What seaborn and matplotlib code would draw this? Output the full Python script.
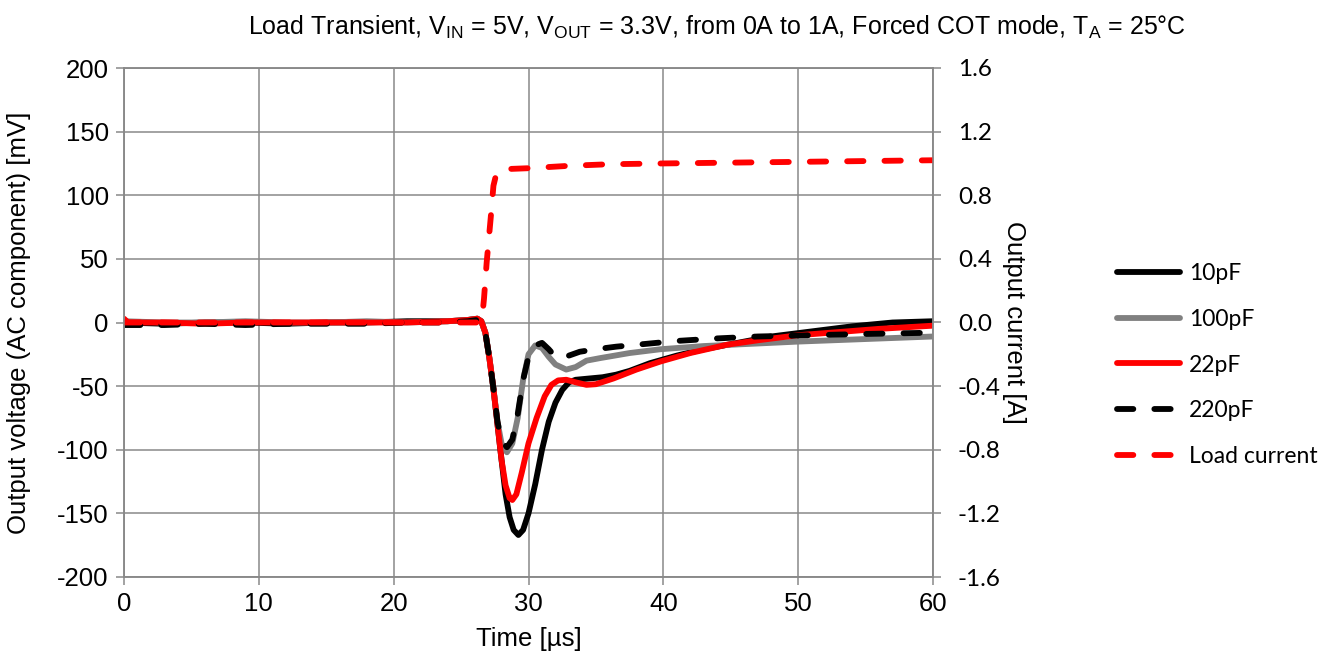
import numpy as np
import pandas as pd
import matplotlib
matplotlib.use("Agg")
import matplotlib.pyplot as plt
import seaborn as sns

# ---------------- data ----------------
t_10pF = [0, 3, 6, 9, 12, 15, 18, 21, 24, 25.5, 26.2, 26.5, 26.8, 27.1, 27.4, 27.7, 28.0, 28.3,
          28.6, 28.9, 29.25, 29.6, 30.0, 30.5, 31.0, 31.5, 32.0, 32.5, 33.0, 33.5, 34.5, 35.5,
          36.5, 37.5, 39, 41, 43, 45, 48, 51, 54, 57, 60]
v_10pF = [0, -1, 0, 0, -1, 0, 0, 1, 1, 2, 3, 1, -8, -28, -52, -80, -108, -135,
          -153, -163, -167, -163, -150, -127, -100, -78, -63, -53, -47, -45, -44, -43,
          -41, -38, -32, -26, -21, -17, -11, -7, -3, 0, 1]

t_100pF = [0, 3, 6, 9, 12, 15, 18, 21, 24, 25.5, 26.2, 26.5, 26.8, 27.1, 27.4, 27.7, 28.0, 28.4,
           28.8, 29.2, 29.6, 30.0, 30.5, 31.0, 31.5, 32.0, 32.8, 33.5, 34.3, 35.3, 37.5, 39.8,
           43, 46, 50, 55, 60]
v_100pF = [1, 0, 0, 1, 0, 0, 1, 0, 1, 2, 3, 1, -8, -28, -52, -78, -95, -102,
           -95, -75, -45, -25, -18, -20, -27, -33, -37, -35, -30, -28, -24, -21,
           -18.5, -17, -15, -13, -11]

t_22pF = [0, 0.3, 3, 6, 9, 12, 15, 18, 21, 24, 25.5, 26.2, 26.5, 26.8, 27.1, 27.4, 27.7, 28.0,
          28.3, 28.6, 28.8, 29.1, 29.5, 30.0, 30.6, 31.2, 31.7, 32.2, 32.8, 33.5, 34.3, 35.0,
          36.3, 38, 39.8, 42, 44.7, 47, 50, 53, 56, 60]
v_22pF = [3, 0, 0, -1, 0, 0, 0, 0, 0, 1, 2, 3, 1, -8, -28, -52, -80, -108,
          -128, -138, -139.5, -135, -118, -95, -75, -58, -49, -45.5, -45, -47, -49, -48.5,
          -44, -37, -30.6, -24, -17.5, -14, -10, -7.5, -5, -2.5]

t_220pF = [0, 3, 6, 9, 12, 15, 18, 21, 24, 25.5, 26.2, 26.5, 26.8, 27.1, 27.4, 27.7, 28.0, 28.4,
           28.8, 29.2, 29.6, 30.0, 30.5, 31.0, 31.5, 32.0, 32.5, 33.0, 33.8, 35, 36.5, 38.5,
           41, 44, 47, 51, 55, 60]
v_220pF = [-2, -2, -1, -2, -1, -1, -1, 0, 0, 1, 2, 0, -8, -28, -52, -78, -93, -98,
           -92, -72, -45, -27, -18, -16, -21, -27, -28, -26, -23, -21, -19, -17,
           -14.5, -12.5, -11, -10, -9, -8]

t_load = [0, 10, 20, 26.4, 26.55, 26.7, 26.9, 27.2, 27.4, 27.6, 27.9, 28.5, 30, 33, 36,
          40, 45, 50, 55, 60]
i_load = [0, 0, 0, 0, 0.02, 0.15, 0.38, 0.66, 0.86, 0.93, 0.96, 0.965, 0.97, 0.985, 0.995,
          1.0, 1.005, 1.01, 1.015, 1.02]

labels = ["10pF", "100pF", "22pF", "220pF", "Load current"]
colors = ["#000000", "#808080", "#FF0000", "#000000", "#FF0000"]

x_ticks = [0, 10, 20, 30, 40, 50, 60]
yl_ticks = [-200, -150, -100, -50, 0, 50, 100, 150, 200]
yr_ticks = [-1.6, -1.2, -0.8, -0.4, 0.0, 0.4, 0.8, 1.2, 1.6]

title = ("Load Transient, V$_{\\mathregular{IN}}$ = 5V, V$_{\\mathregular{OUT}}$ = 3.3V, "
         "from 0A to 1A, Forced COT mode, T$_{\\mathregular{A}}$ = 25°C")

# ---------------- styling ----------------
sns.set_theme(style="white")
plt.rcParams["font.family"] = ["Liberation Sans", "DejaVu Sans"]
plt.rcParams["mathtext.fontset"] = "custom"
plt.rcParams["mathtext.rm"] = "Liberation Sans"
plt.rcParams["mathtext.it"] = "Liberation Sans"
plt.rcParams["axes.unicode_minus"] = False
for key in ["text.color", "axes.labelcolor", "xtick.labelcolor", "ytick.labelcolor"]:
    plt.rcParams[key] = "black"

GRID = "#898989"
LW = 4.2
DASH = (0, (2.8, 3.6))
FS = 18.5

fig = plt.figure(figsize=(13.33, 6.56), dpi=100)
ax = fig.add_axes([124 / 1333, 1 - 577 / 656, (933 - 124) / 1333, (577 - 68) / 656])

series = [(t_10pF, v_10pF), (t_100pF, v_100pF), (t_22pF, v_22pF), (t_220pF, v_220pF)]
handles = []
for k, (tt, vv) in enumerate(series):
    df = pd.DataFrame({"t": tt, "v": vv})
    sns.lineplot(data=df, x="t", y="v", ax=ax, color=colors[k], linewidth=LW,
                 estimator=None, sort=True, label=labels[k], legend=False)
    ln = ax.get_lines()[-1]
    ln.set_solid_capstyle("round")
    ln.set_solid_joinstyle("round")
    if labels[k] == "220pF":
        ln.set_linestyle(DASH)
        ln.set_dash_capstyle("round")
    handles.append(ln)

ax2 = ax.twinx()
dfl = pd.DataFrame({"t": t_load, "i": i_load})
sns.lineplot(data=dfl, x="t", y="i", ax=ax2, color=colors[4], linewidth=LW,
             estimator=None, sort=True, label=labels[4], legend=False)
ln = ax2.get_lines()[-1]
ln.set_linestyle(DASH)
ln.set_dash_capstyle("round")
handles.append(ln)

ax.set_xlim(0, 60)
ax.set_ylim(-200, 200)
ax2.set_ylim(-1.6, 1.6)
ax.set_xticks(x_ticks)
ax.set_yticks(yl_ticks)
ax2.set_yticks(yr_ticks)
ax2.set_yticklabels([f"{v:.1f}" for v in yr_ticks], family="Lato", fontsize=17.5)

ax.grid(True, color=GRID, linewidth=1.1)
ax.set_axisbelow(True)
for a in (ax, ax2):
    for s in a.spines.values():
        s.set_color(GRID)
        s.set_linewidth(1.1)
ax.tick_params(axis="both", direction="out", length=6, width=1.1, color=GRID,
               labelsize=FS, pad=5, left=True, bottom=True, labelcolor="black")
ax2.tick_params(axis="y", direction="out", length=6, width=1.1, color=GRID, pad=12,
                right=True, labelcolor="black")

ax.set_xlabel("Time [µs]", fontsize=FS, labelpad=8)
ax.set_ylabel("Output voltage (AC component) [mV]", fontsize=FS, labelpad=19)
ax2.set_ylabel("Output current [A]", fontsize=FS, rotation=-90, labelpad=18)

fig.text(717 / 1333, 1 - 27 / 656, title, ha="center", va="center", fontsize=18)

fig.legend(handles=handles, labels=labels, loc="center left",
           bbox_to_anchor=(1096 / 1333, 1 - 365 / 656), frameon=False,
           prop={"family": "Lato", "size": 16.5}, handlelength=2.75, handletextpad=0.4,
           labelspacing=1.07)

fig.savefig("out.png", dpi=100)
